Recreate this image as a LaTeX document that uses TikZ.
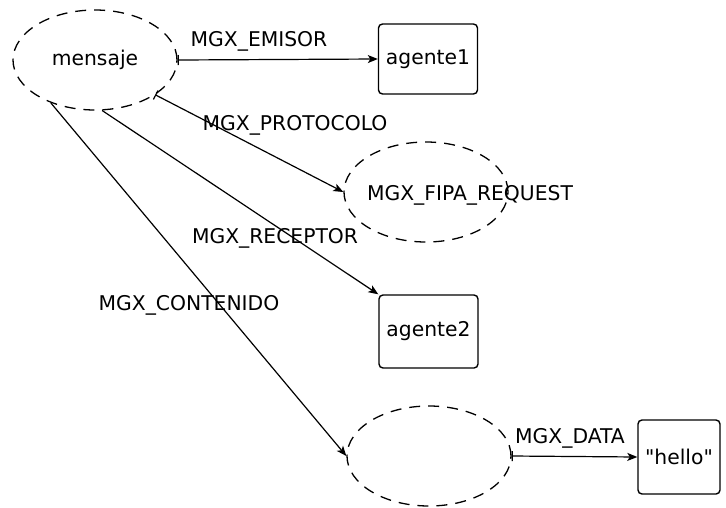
\documentclass[tikz,border=0pt]{standalone}
\usepackage{fontspec}
\setmainfont{DejaVu Sans}[Ligatures=TeXOff]
\usetikzlibrary{shapes.geometric,arrows.meta}
\begin{document}
\begin{tikzpicture}[x=1pt,y=-1pt,
  every node/.style={font=\fontsize{20.3}{24}\selectfont},
  dashell/.style={ellipse,draw,line width=1.3pt,dash pattern=on 11pt off 8pt,inner sep=0pt,minimum width=164pt,minimum height=100pt},
  valbox/.style={draw,line width=1.4pt,rounded corners=4pt,inner sep=0pt},
  conn/.style={line width=1.2pt,{Bar[width=10pt,line width=1.2pt]}-{Stealth[length=10pt,width=8pt,inset=2.5pt]}},
  connnb/.style={line width=1.2pt,-{Stealth[length=10pt,width=8pt,inset=2.5pt]}},
  lbl/.style={inner sep=0pt}
]
\useasboundingbox (0,0) rectangle (726,507);
\node[dashell] (m) at (95,60) {mensaje};
\node[valbox,minimum width=99pt,minimum height=70pt] (a1) at (428,59) {agente1};
\node[dashell] (fipa) at (426,192) {};
\node[lbl] (fipat) at (470,195) {MGX\_FIPA\_REQUEST};
\node[valbox,minimum width=99pt,minimum height=73pt] (a2) at (428.5,331.5) {agente2};
\node[dashell] (cont) at (429,456) {};
\node[valbox,minimum width=82pt,minimum height=74pt] (h) at (679,457) {"hello"};

\draw[conn] (m.east) -- (a1.west);
\draw[conn] (m.-30) -- (fipa.west);
\draw[connnb] (m.-82) -- (a2.north west);
\draw[connnb] (m.-136) -- (cont.west);
\draw[conn] (cont.east) -- (h.west);

\node[lbl] (l1) at (259,41) {MGX\_EMISOR};
\node[lbl] (l2) at (295,125) {MGX\_PROTOCOLO};
\node[lbl] (l3) at (275,238) {MGX\_RECEPTOR};
\node[lbl] (l4) at (189,305) {MGX\_CONTENIDO};
\node[lbl] (l5) at (570,438) {MGX\_DATA};
\end{tikzpicture}
\end{document}
